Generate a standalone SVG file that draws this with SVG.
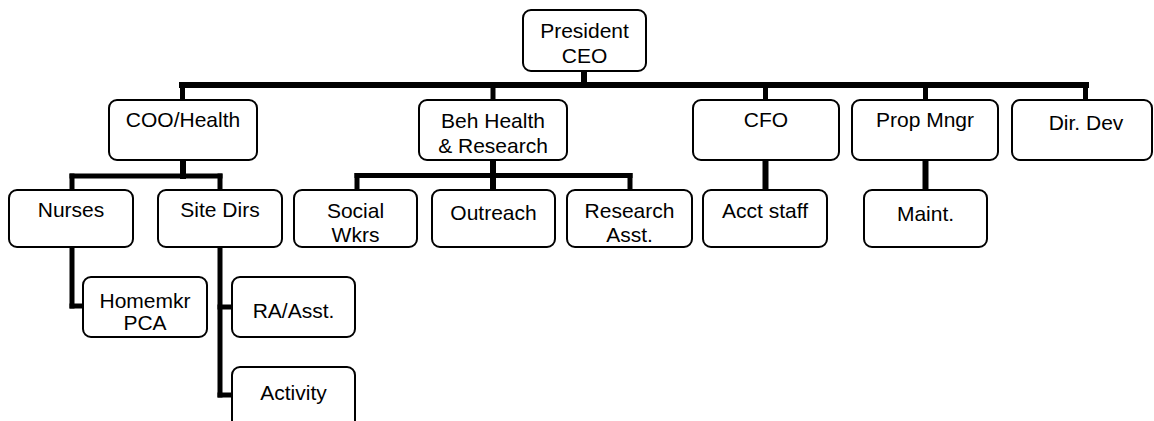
<svg xmlns="http://www.w3.org/2000/svg" width="1154" height="421" viewBox="0 0 1154 421">
<style>
.box{fill:#fff;stroke:#000;stroke-width:2}
.t{font-family:"Liberation Sans",Arial,sans-serif;font-size:21px;fill:#000;text-anchor:middle}
.c{stroke:#000;fill:none;stroke-linecap:square}
.w6{stroke-width:6}
.w5{stroke-width:5}
</style>
<rect width="1154" height="421" fill="#fff"/>
<g id="connectors">
<line class="c w6" x1="584" y1="71" x2="584" y2="85"/>
<line class="c w6" x1="182" y1="85" x2="1086" y2="85"/>
<line class="c w5" x1="182.5" y1="85" x2="182.5" y2="99"/>
<line class="c w5" x1="493" y1="85" x2="493" y2="99"/>
<line class="c w5" x1="765.5" y1="85" x2="765.5" y2="99"/>
<line class="c w5" x1="925.5" y1="85" x2="925.5" y2="99"/>
<line class="c w5" x1="1085.5" y1="85" x2="1085.5" y2="99"/>
<line class="c w6" x1="183" y1="160" x2="183" y2="176"/>
<line class="c w5" x1="72" y1="176" x2="220" y2="176"/>
<line class="c w5" x1="72" y1="176" x2="72" y2="189"/>
<line class="c w5" x1="220" y1="176" x2="220" y2="189"/>
<line class="c w5" x1="72" y1="247" x2="72" y2="306"/>
<line class="c w5" x1="72" y1="306" x2="82" y2="306"/>
<line class="c w5" x1="220" y1="247" x2="220" y2="395"/>
<line class="c w5" x1="220" y1="307" x2="231" y2="307"/>
<line class="c w5" x1="220" y1="395" x2="231" y2="395"/>
<line class="c w6" x1="493" y1="160" x2="493" y2="189"/>
<line class="c w5" x1="357" y1="175.5" x2="630" y2="175.5"/>
<line class="c w5" x1="357" y1="175.5" x2="357" y2="189"/>
<line class="c w5" x1="630" y1="175.5" x2="630" y2="189"/>
<line class="c w6" x1="765.5" y1="160" x2="765.5" y2="189"/>
<line class="c w6" x1="925.5" y1="160" x2="925.5" y2="189"/>
</g>
<g id="president"><rect class="box" x="523" y="10" width="123" height="61" rx="8"/><text class="t" x="584.5" y="38">President</text><text class="t" x="584.5" y="63">CEO</text></g>
<g id="coo"><rect class="box" x="109" y="100" width="148" height="60" rx="8"/><text class="t" x="183" y="127">COO/Health</text></g>
<g id="beh"><rect class="box" x="419" y="100" width="148" height="60" rx="8"/><text class="t" x="493" y="128">Beh Health</text><text class="t" x="493" y="153">&amp; Research</text></g>
<g id="cfo"><rect class="box" x="693" y="100" width="146" height="60" rx="8"/><text class="t" x="766" y="127">CFO</text></g>
<g id="prop"><rect class="box" x="852" y="100" width="146" height="60" rx="8"/><text class="t" x="925" y="127">Prop Mngr</text></g>
<g id="dirdev"><rect class="box" x="1012" y="100" width="140" height="60" rx="8"/><text class="t" x="1086" y="130">Dir. Dev</text></g>
<g id="nurses"><rect class="box" x="9" y="190" width="124" height="57" rx="8"/><text class="t" x="71" y="217">Nurses</text></g>
<g id="sitedirs"><rect class="box" x="158" y="190" width="124" height="57" rx="8"/><text class="t" x="220" y="217">Site Dirs</text></g>
<g id="social"><rect class="box" x="294" y="190" width="123" height="57" rx="8"/><text class="t" x="355.5" y="218">Social</text><text class="t" x="355.5" y="242">Wkrs</text></g>
<g id="outreach"><rect class="box" x="432" y="190" width="123" height="57" rx="8"/><text class="t" x="493.5" y="220">Outreach</text></g>
<g id="research"><rect class="box" x="567" y="190" width="125" height="57" rx="8"/><text class="t" x="629.5" y="218">Research</text><text class="t" x="629.5" y="242">Asst.</text></g>
<g id="acct"><rect class="box" x="703" y="190" width="124" height="57" rx="8"/><text class="t" x="765" y="218">Acct staff</text></g>
<g id="maint"><rect class="box" x="864" y="190" width="123" height="57" rx="8"/><text class="t" x="925.5" y="221">Maint.</text></g>
<g id="homemkr"><rect class="box" x="83" y="277" width="124" height="60" rx="8"/><text class="t" x="145" y="308">Homemkr</text><text class="t" x="145" y="330">PCA</text></g>
<g id="ra"><rect class="box" x="232" y="277" width="123" height="60" rx="8"/><text class="t" x="293.5" y="318">RA/Asst.</text></g>
<g id="activity"><rect class="box" x="232" y="367" width="123" height="70" rx="8"/><text class="t" x="293.5" y="400">Activity</text></g>
</svg>
